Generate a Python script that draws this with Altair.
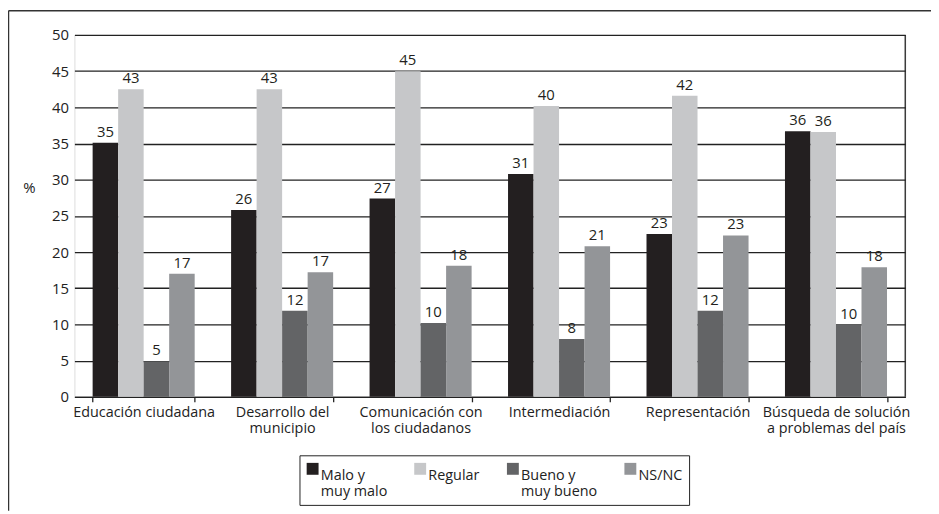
import altair as alt
import pandas as pd

categories = ["Educación ciudadana", "Desarrollo del|municipio", "Comunicación con|los ciudadanos",
              "Intermediación", "Representación", "Búsqueda de solución|a problemas del país"]
series = ["Malo y|muy malo", "Regular", "Bueno y|muy bueno", "NS/NC"]
colors = ["#231f20", "#c6c7c9", "#636466", "#939598"]

malo = [35.1, 25.8, 27.4, 30.8, 22.5, 36.7]
regular = [42.5, 42.5, 45.0, 40.2, 41.6, 36.6]
bueno = [4.9, 11.9, 10.2, 8.0, 11.9, 10.0]
nsnc = [17.0, 17.2, 18.1, 20.8, 22.3, 17.9]

malo_lbl = [35, 26, 27, 31, 23, 36]
regular_lbl = [43, 43, 45, 40, 42, 36]
bueno_lbl = [5, 12, 10, 8, 12, 10]
nsnc_lbl = [17, 17, 18, 21, 23, 18]

y_ticks = [0, 5, 10, 15, 20, 25, 30, 35, 40, 45, 50]

rows = []
for s, vals, lbls in zip(series, [malo, regular, bueno, nsnc], [malo_lbl, regular_lbl, bueno_lbl, nsnc_lbl]):
    for c, v, l in zip(categories, vals, lbls):
        rows.append({"cat": c, "series": s, "value": v, "label": str(l)})
df = pd.DataFrame(rows)

FONT = "Open Sans"
W, H = 838, 365

x_enc = alt.X("cat:N", sort=categories, title=None,
              scale=alt.Scale(paddingInner=0.263, paddingOuter=0.1315),
              axis=alt.Axis(labelAngle=0, labelExpr="split(datum.label, '|')", tickBand="extent",
                            domainColor="#222", domainWidth=1.3, tickColor="#222", tickSize=5,
                            tickWidth=1.3, labelPadding=4, labelFontSize=14.5, labelColor="#222",
                            labelLineHeight=16, grid=False, labelBaseline="top", labelOverlap=False,
                            labelLimit=250))
xoff = alt.XOffset("series:N", sort=series, scale=alt.Scale(paddingInner=0, paddingOuter=0))
y_enc = alt.Y("value:Q", scale=alt.Scale(domain=[0, 50], nice=False),
              axis=alt.Axis(values=y_ticks, title="%", titleAngle=0, titleX=-46, titleY=154,
                            titleAlign="center", titleBaseline="middle", titleFontWeight="normal",
                            titleFontSize=15, titleColor="#222", labelOverlap=False,
                            domain=False, ticks=False, labelPadding=6, labelFontSize=15,
                            labelColor="#222", gridColor="#222", gridWidth=1.3, gridOpacity=1))

bars = alt.Chart(df).mark_bar().encode(
    x=x_enc, xOffset=xoff, y=y_enc,
    color=alt.Color("series:N", sort=series, scale=alt.Scale(domain=series, range=colors),
                    legend=alt.Legend(title=None, orient="none", legendX=227, legendY=424,
                                      direction="horizontal", columns=4, symbolType="square",
                                      symbolSize=144, symbolStrokeWidth=0, columnPadding=25.5,
                                      labelOffset=1, labelFontSize=14.5, labelColor="#222",
                                      labelExpr="split(indexof(datum.label, '|') < 0 ? datum.label + '| ' : datum.label, '|')",
                                      labelBaseline="top",
                                      padding=6, strokeColor="#222", labelLimit=200))
)

texts = alt.Chart(df).mark_text(baseline="bottom", dy=-3, fontSize=15, color="#231f20", font=FONT).encode(
    x=x_enc, xOffset=xoff, y=y_enc, text="label:N"
)

frame_right = alt.Chart(alt.Data(values=[{}])).mark_rule(color="#222", strokeWidth=1.3).encode(
    x=alt.value(W), y=alt.value(0), y2=alt.value(H))
border_top = alt.Chart(alt.Data(values=[{}])).mark_rule(color="#333", strokeWidth=1.5).encode(
    x=alt.value(-66.5), x2=alt.value(870), y=alt.value(-24.5))
border_left = alt.Chart(alt.Data(values=[{}])).mark_rule(color="#333", strokeWidth=1.5).encode(
    x=alt.value(-66.5), y=alt.value(-24.5), y2=alt.value(480))

chart = alt.layer(bars, texts, frame_right, border_top, border_left).properties(
    width=W, height=H,
    autosize=alt.AutoSizeParams(type="none"),
    padding={"left": 67, "top": 25, "right": 26, "bottom": 116},
).configure_view(stroke=None).configure(font=FONT)

chart.save("out.html", embed_options={"renderer": "svg", "actions": False})
